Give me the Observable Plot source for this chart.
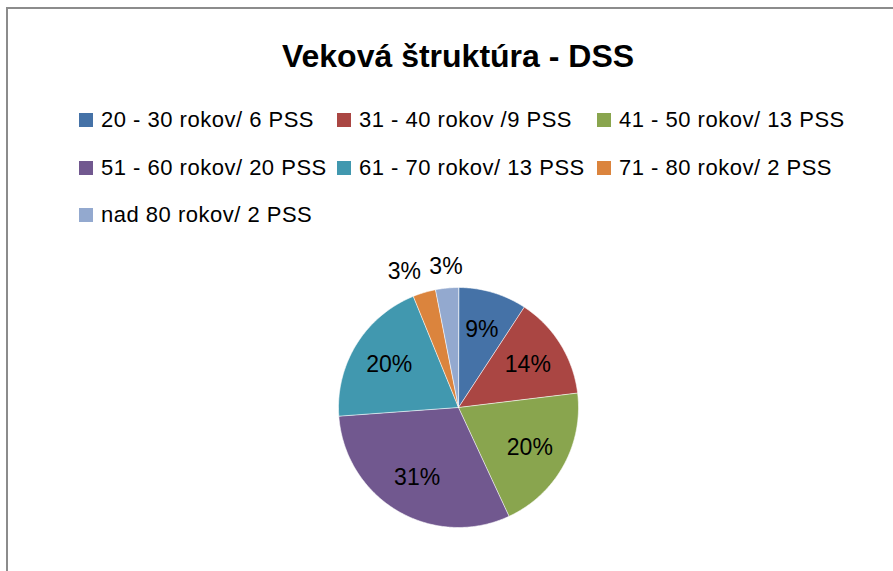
<!DOCTYPE html>
<html>
<head>
<meta charset="utf-8">
<script src="https://cdn.jsdelivr.net/npm/d3@7"></script>
<script src="https://cdn.jsdelivr.net/npm/@observablehq/plot@0.6"></script>
<style>
  html, body { margin: 0; padding: 0; background: #fff; }
  body { width: 893px; height: 571px; position: relative; overflow: hidden; font-family: "Liberation Sans", Arial, sans-serif; }
  #frame { position: absolute; left: 6px; top: 7px; right: -10px; bottom: -10px; border-left: 2px solid #8c8c8c; border-top: 2px solid #8c8c8c; }
  #chart { position: absolute; left: 0; top: 0; }
  #chart svg { background: transparent; }
  #title { position: absolute; left: 58px; width: 800px; top: 37px; text-align: center; font-weight: bold; font-size: 32px; line-height: 38px; color: #000; }
  .item { position: absolute; height: 24px; white-space: nowrap; }
  .sw { position: absolute; left: 0; top: 5px; width: 14px; height: 14px; }
  .lbl { position: absolute; left: 22px; top: 0; font-size: 22px; line-height: 24px; letter-spacing: 0.5px; color: #000; }
</style>
</head>
<body>
<div id="frame"></div>
<div id="chart"></div>
<div id="title">Veková štruktúra - DSS</div>
<div id="legend"></div>
<script>
// ---- data ----
const categories = ["20 - 30 rokov/ 6 PSS", "31 - 40 rokov /9 PSS", "41 - 50 rokov/ 13 PSS", "51 - 60 rokov/ 20 PSS", "61 - 70 rokov/ 13 PSS", "71 - 80 rokov/ 2 PSS", "nad 80 rokov/ 2 PSS"];
const counts = [6, 9, 13, 20, 13, 2, 2];
const percentLabels = ["9%", "14%", "20%", "31%", "20%", "3%", "3%"];
const colors = ["#4572A7", "#AA4643", "#89A54E", "#71588F", "#4198AF", "#DB843D", "#93A9CF"];

// ---- layout (legend grid) ----
const legendCols = [79, 337, 597];
const legendRows = [108, 156, 203];

const legend = document.getElementById("legend");
categories.forEach((c, i) => {
  const it = document.createElement("div");
  it.className = "item";
  it.style.left = legendCols[i % 3] + "px";
  it.style.top = legendRows[Math.floor(i / 3)] + "px";
  const sw = document.createElement("div");
  sw.className = "sw";
  sw.style.background = colors[i];
  const lb = document.createElement("div");
  lb.className = "lbl";
  lb.textContent = c;
  it.appendChild(sw); it.appendChild(lb);
  legend.appendChild(it);
});

// ---- pie geometry via d3.pie ----
const R = 120; // pixel radius of one data unit (layout)
const arcs = d3.pie().sort(null).value(d => d)(counts);
const pts = [];
arcs.forEach((a, i) => {
  const cat = categories[i];
  pts.push({cat, x: 0, y: 0});
  const n = Math.max(2, Math.ceil((a.endAngle - a.startAngle) / 0.01));
  for (let k = 0; k <= n; k++) {
    const t = a.startAngle + (a.endAngle - a.startAngle) * k / n;
    pts.push({cat, x: Math.sin(t), y: Math.cos(t)});
  }
});
const total = d3.sum(counts);
const labels = arcs.map((a, i) => {
  const m = (a.startAngle + a.endAngle) / 2;
  const s = Math.sin(m), c = Math.cos(m);
  if (counts[i] / total >= 0.05) {
    return {text: percentLabels[i], x: 0.68 * s, y: 0.68 * c};
  }
  // outside label: anchor box edge at a point just beyond the rim
  const w = 34, h = 23;
  const dxPx = Math.abs(s) > 0.2 ? Math.sign(s) * w / 2 : 0;
  const dyPx = Math.sign(c) * h / 2;
  return {text: percentLabels[i], x: 1.08 * s + dxPx / R, y: 1.08 * c + dyPx / R};
});

const plot = Plot.plot({
  width: 893,
  height: 571,
  margin: 0,
  style: {fontFamily: "'Liberation Sans', Arial, sans-serif", background: "transparent"},
  x: {domain: [-1, 1], range: [458 - R, 458 + R], axis: null},
  y: {domain: [-1, 1], range: [407 + R, 407 - R], axis: null},
  color: {domain: categories, range: colors},
  marks: [
    Plot.line(pts, {x: "x", y: "y", z: "cat", fill: "cat", stroke: "white", strokeWidth: 0.6, strokeLinejoin: "round", curve: "linear-closed"}),
    Plot.text(labels, {x: "x", y: "y", text: "text", fontSize: 23, fill: "black"})
  ]
});
document.getElementById("chart").appendChild(plot);
</script>
</body>
</html>
